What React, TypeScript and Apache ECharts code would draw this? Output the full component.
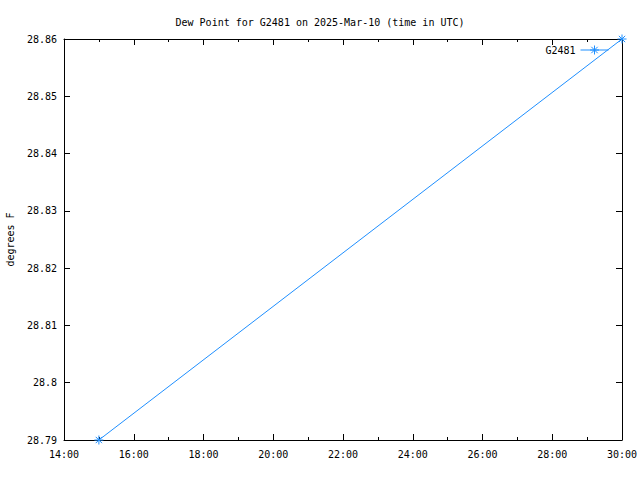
import React, { useEffect, useRef } from "react";
import * as echarts from "echarts";

const titleText = "Dew Point for G2481 on 2025-Mar-10 (time in UTC)";
const seriesName = "G2481";
const yAxisName = "degrees F";
// hours since 00:00 of 2025-Mar-10 (30 = 06:00 next day)
const times = [15, 30];
const dewPoints = [28.79, 28.86];
const xMin = 14;
const xMax = 30;
const xInterval = 2;
const yMin = 28.79;
const yMax = 28.86;
const yInterval = 0.01;

const LINE = "#1f8fff";
const FONT = "DejaVu Sans Mono";
const STAR = "path://M0,-5L0,5M-5,0L5,0M-3.5,-3.5L3.5,3.5M-3.5,3.5L3.5,-3.5";
const LEGEND_ICON = "path://M0,5L28,5M14,0.5L14,9.5M9.5,5L18.5,5M10.8,1.8L17.2,8.2M10.8,8.2L17.2,1.8";

export default function App() {
  const ref = useRef<HTMLDivElement>(null);
  useEffect(() => {
    if (!ref.current) return;
    const chart = echarts.init(ref.current, null, { renderer: "svg" });
    const fmtX = (v: number) => `${String(Math.round(v)).padStart(2, "0")}:00`;
    const fmtY = (v: number) => String(parseFloat(v.toFixed(2)));
    const axisCommon = {
      axisLine: { show: true, lineStyle: { color: "#000", width: 1 } },
      axisTick: { show: true, inside: true, length: 6, lineStyle: { color: "#000" } },
      minorTick: { show: true, splitNumber: 2, length: 3, lineStyle: { color: "#000" } },
      splitLine: { show: false },
    };
    chart.setOption({
      animation: false,
      backgroundColor: "#fff",
      textStyle: { fontFamily: FONT },
      title: {
        text: titleText,
        left: "center",
        top: 12,
        textStyle: { fontFamily: FONT, fontSize: 10, fontWeight: "normal", color: "#000" },
      },
      legend: {
        data: [{ name: seriesName, icon: LEGEND_ICON }],
        right: 26,
        top: 40,
        align: "right",
        itemWidth: 28,
        itemHeight: 10,
        itemGap: 7,
        itemStyle: { color: LINE, borderColor: LINE, borderWidth: 1 },
        textStyle: { fontFamily: FONT, fontSize: 10, color: "#000" },
      },
      grid: {
        left: 64,
        right: 18,
        top: 39,
        bottom: 40,
        containLabel: false,
        outerBoundsMode: "none",
      },
      xAxis: [
        {
          type: "value",
          min: xMin,
          max: xMax,
          interval: xInterval,
          position: "bottom",
          ...axisCommon,
          axisLabel: { formatter: fmtX, fontFamily: FONT, fontSize: 10, color: "#000", margin: 9 },
        },
        {
          type: "value",
          min: xMin,
          max: xMax,
          interval: xInterval,
          position: "top",
          ...axisCommon,
          axisLabel: { show: false },
        },
      ],
      yAxis: [
        {
          type: "value",
          min: yMin,
          max: yMax,
          interval: yInterval,
          position: "left",
          ...axisCommon,
          minorTick: { show: false },
          name: yAxisName,
          nameLocation: "middle",
          nameGap: 49,
          nameRotate: 90,
          nameTextStyle: { fontFamily: FONT, fontSize: 10, color: "#000" },
          axisLabel: { formatter: fmtY, fontFamily: FONT, fontSize: 10, color: "#000", margin: 7 },
        },
        {
          type: "value",
          min: yMin,
          max: yMax,
          interval: yInterval,
          position: "right",
          ...axisCommon,
          minorTick: { show: false },
          axisLabel: { show: false },
        },
      ],
      series: [
        {
          name: seriesName,
          type: "line",
          data: times.map((t, i) => [t, dewPoints[i]]),
          symbol: STAR,
          symbolSize: 9,
          showSymbol: true,
          lineStyle: { color: LINE, width: 1 },
          itemStyle: { color: LINE, borderColor: LINE, borderWidth: 1 },
          clip: false,
        },
      ],
    });
    return () => chart.dispose();
  }, []);
  return (
    <div
      ref={ref}
      style={{ position: "fixed", left: 0, top: 0, width: 640, height: 480, background: "#fff" }}
    />
  );
}
